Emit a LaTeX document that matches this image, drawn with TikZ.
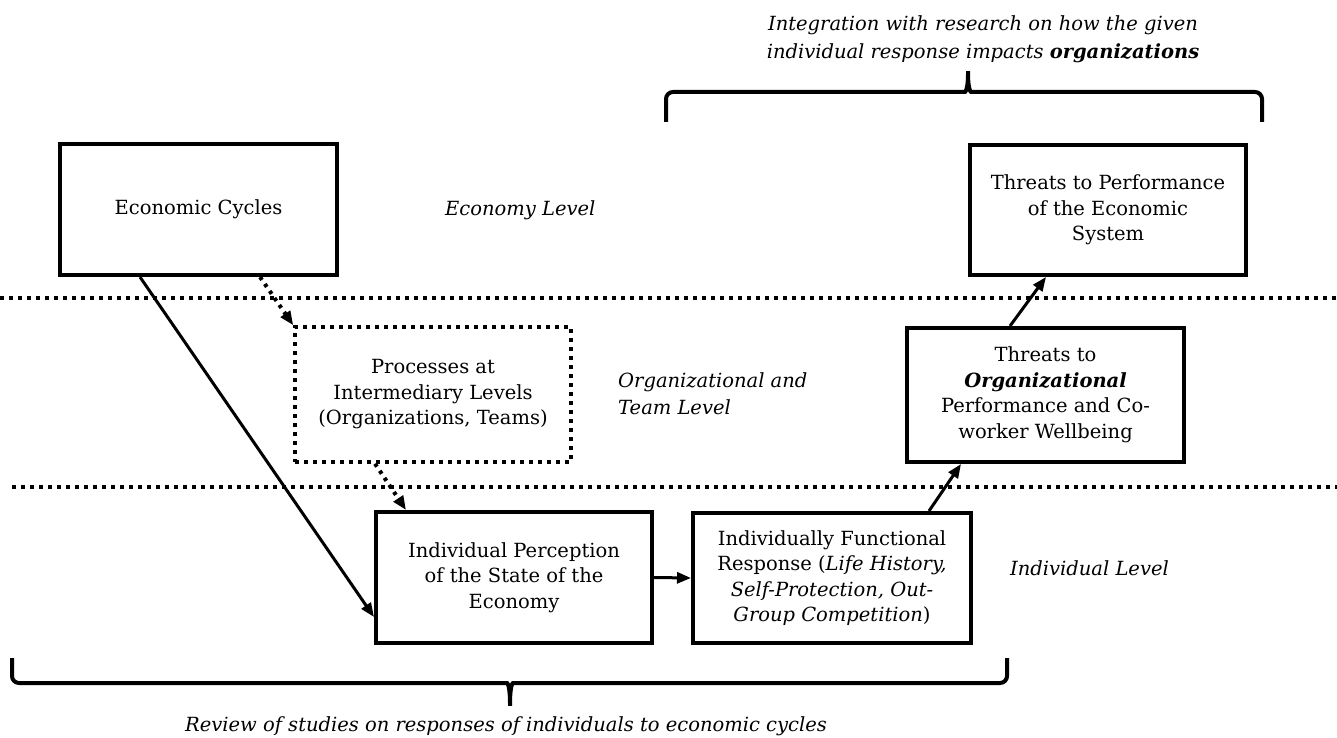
\documentclass[tikz,border=0pt]{standalone}
\usepackage{fontspec}
\setmainfont{DejaVu Serif}
\usetikzlibrary{arrows.meta,calc}
\newcommand\boxfont{\fontsize{19.5}{25.5}\selectfont}
\newcommand\labfont{\fontsize{19.5}{27}\selectfont\itshape}
\begin{document}
\begin{tikzpicture}[x=1pt,y=-1pt,
  box/.style={draw,line width=4pt,minimum width=277pt,minimum height=131pt,inner sep=0pt,align=center,font=\boxfont},
  dbox/.style={box,line width=3.5pt,dash pattern=on 4pt off 5pt},
  hdots/.style={line width=4pt,dash pattern=on 4pt off 5pt},
  arr/.style={line width=3pt,-{Triangle[length=14pt,width=11pt]}},
  darr/.style={line width=4pt,dash pattern=on 3.5pt off 5pt,-{Triangle[length=14pt,width=11pt]}},
  brace/.style={line width=4pt,rounded corners=7pt},
  lab/.style={font=\labfont,inner sep=0pt,align=left}]
\useasboundingbox (0,0) rectangle (1337,738);

% level separators
\coordinate (l1a) at (0,298);
\coordinate (l1b) at (1337,298);
\coordinate (l2a) at (12,487);
\coordinate (l2b) at (1337,487);
\draw[hdots] (l1a) -- (l1b);
\draw[hdots] (l2a) -- (l2b);

% boxes
\node[box] (econ) at (198.5,209.5) {Economic Cycles};
\node[box,minimum width=276pt,minimum height=130pt] (threat) at (1108,210) {Threats to Performance\\of the Economic\\System};
\node[dbox,minimum width=276pt,minimum height=135pt] (proc) at (433,394.5) {Processes at\\Intermediary Levels\\(Organizations, Teams)};
\node[box,minimum height=134pt] (org) at (1045.5,395) {Threats to\\\textbf{\textit{Organizational}}\\Performance and Co-\\worker Wellbeing};
\node[box,minimum width=276pt] (indiv) at (514,577.5) {Individual Perception\\of the State of the\\Economy};
\node[box,minimum width=278pt,minimum height=130pt] (func) at (832,578) {Individually Functional\\Response (\textit{Life History,}\\\textit{Self-Protection, Out-}\\\textit{Group Competition})};

% level labels
\node[lab,anchor=west] (econlab) at (445,210) {Economy Level};
\node[lab,anchor=west] (orglab) at (618,393.5) {Organizational and\\Team Level};
\node[lab,anchor=west] (indlab) at (1010,568) {Individual Level};

% connectors
\draw[arr] ([xshift=-58.5pt]econ.south) -- ([yshift=-39.5pt]indiv.west);
\draw[darr] ([xshift=61.5pt]econ.south) -- (proc.north west);
\draw[darr] ([xshift=-58pt]proc.south) -- ([xshift=-108pt]indiv.north);
\draw[arr] (indiv.east) -- (func.west);
\draw[arr] ([xshift=97pt]func.north) -- ([xshift=-84.5pt]org.south);
\draw[arr] ([xshift=-35.5pt]org.north) -- ([xshift=-62pt]threat.south);

% top brace
\coordinate (tb1) at (666,122);
\coordinate (tb2) at (1262,122);
\coordinate (tbt) at (968,67);
\draw[brace] (tb1) -- (666,92) -- (958,92) .. controls (966,92) and (968,86) .. (tbt) .. controls (968,86) and (970,92) .. (978,92) -- (1262,92) -- (tb2);
\node[font=\labfont,align=center,inner sep=0pt] (toptext) at (983,39) {Integration with research on how the given\\[1pt]individual response impacts \textbf{organizations}};

% bottom brace
\coordinate (bb1) at (12,658);
\coordinate (bb2) at (1007,658);
\coordinate (bbt) at (510,710);
\draw[brace] (bb1) -- (12,683) -- (500,683) .. controls (508,683) and (510,689) .. (bbt) .. controls (510,689) and (512,683) .. (520,683) -- (1007,683) -- (bb2);
\node[font=\labfont,inner sep=0pt] (bottext) at (506,726) {Review of studies on responses of individuals to economic cycles};
\end{tikzpicture}
\end{document}
